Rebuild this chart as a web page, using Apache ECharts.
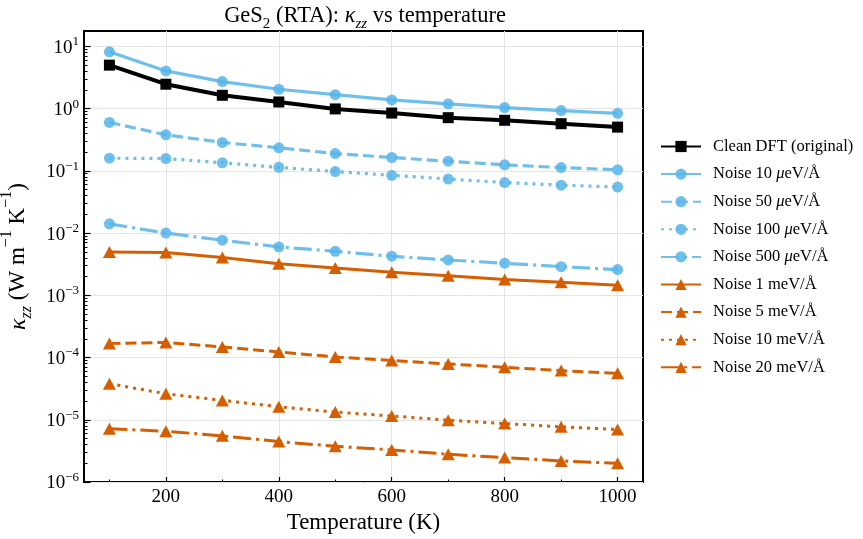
<!DOCTYPE html>
<html><head><meta charset="utf-8">
<script src="https://cdn.jsdelivr.net/npm/echarts@6/dist/echarts.min.js"></script>
<style>html,body{margin:0;padding:0;background:#fff}#c{width:863px;height:539px}</style>
</head><body><div id="c"></div><script>
const temps = [100,200,300,400,500,600,700,800,900,1000];
const clean  = [5.0,2.47,1.64,1.28,0.99,0.85,0.716,0.65,0.573,0.505];
const n10ue  = [8.18,4.04,2.72,2.05,1.68,1.38,1.19,1.04,0.93,0.84];
const n50ue  = [0.60,0.38,0.286,0.235,0.19,0.164,0.143,0.125,0.113,0.104];
const n100ue = [0.16,0.158,0.135,0.114,0.0975,0.085,0.074,0.065,0.059,0.055];
const n500ue = [0.0141,0.0100,0.0077,0.0060,0.0051,0.00425,0.0037,0.00328,0.00289,0.00259];
const n1me   = [0.00499,0.00486,0.00404,0.00323,0.00275,0.00235,0.00207,0.00179,0.00162,0.00145];
const n5me   = [1.68e-4,1.75e-4,1.48e-4,1.23e-4,1.02e-4,8.95e-5,7.9e-5,6.98e-5,6.17e-5,5.58e-5];
const n10me  = [3.8e-5,2.62e-5,2.05e-5,1.62e-5,1.33e-5,1.15e-5,9.87e-6,8.7e-6,7.7e-6,6.98e-6];
const n20me  = [7.16e-6,6.55e-6,5.52e-6,4.47e-6,3.75e-6,3.28e-6,2.79e-6,2.47e-6,2.18e-6,2.0e-6];

const names = ['Clean DFT (original)','Noise 10 μeV/Å','Noise 50 μeV/Å','Noise 100 μeV/Å','Noise 500 μeV/Å',
  'Noise 1 meV/Å','Noise 5 meV/Å','Noise 10 meV/Å','Noise 20 meV/Å'];
const values = [clean,n10ue,n50ue,n100ue,n500ue,n1me,n5me,n10me,n20me];

const xMajorTicks = [200,400,600,800,1000];
const xMinorTicks = [100,300,500,700,900];
const yMajorTicks = [1e-6,1e-5,1e-4,1e-3,1e-2,1e-1,1,10];
const yMinorTicks = [];
for (let n=-6;n<=0;n++) for (let k=2;k<=9;k++) yMinorTicks.push(+(k*Math.pow(10,n)).toPrecision(3));

const SERIF = '"Liberation Serif","Times New Roman",serif';
const BLACK='#000000', BLUE='#56B4E9', ORANGE='#D55E00';
const DASH=[11,5], DOT=[3,5], DASHDOT=[18,5,3,5];
const styles = [
  {c:BLACK, sym:'rect', size:11, lw:4, t:'solid', op:1},
  {c:BLUE, sym:'circle', size:11, lw:3.2, t:'solid', op:0.85},
  {c:BLUE, sym:'circle', size:11, lw:3.2, t:DASH, op:0.85},
  {c:BLUE, sym:'circle', size:11, lw:3.2, t:DOT, op:0.85},
  {c:BLUE, sym:'circle', size:11, lw:3.2, t:DASHDOT, op:0.85},
  {c:ORANGE, sym:'triangle', size:[13,12], lw:3, t:'solid', op:1},
  {c:ORANGE, sym:'triangle', size:[13,12], lw:3, t:DASH, op:1},
  {c:ORANGE, sym:'triangle', size:[13,12], lw:3, t:DOT, op:1},
  {c:ORANGE, sym:'triangle', size:[13,12], lw:3, t:DASHDOT, op:1}
];

const series = names.map((nm,i)=>({
  name:nm, type:'line', xAxisIndex:0, yAxisIndex:0,
  data: temps.map((t,j)=>[t, values[i][j]]),
  symbol: styles[i].sym, symbolSize: styles[i].size,
  lineStyle:{color:styles[i].c, width:styles[i].lw, type:styles[i].t, opacity:styles[i].op},
  itemStyle:{color:styles[i].c, opacity:styles[i].op},
  emphasis:{disabled:true}, z: 2+i
}));

function supLabel(v){
  const e = Math.round(Math.log10(v));
  return '{b|10}{s|' + String(e).replace('-', '−') + '}';
}

const chart = echarts.init(document.getElementById('c'), null, {renderer:'canvas'});
chart.setOption({
  animation:false,
  backgroundColor:'#fff',
  title:{
    text:'GeS{sub|2} (RTA): {it|κ}{sub2|zz} vs temperature',
    left:360, top:0, textAlign:'center',
    textStyle:{fontFamily:SERIF, fontSize:22.5, fontWeight:'normal', color:'#000',
      rich:{
        sub:{fontFamily:SERIF, fontSize:15, color:'#000', verticalAlign:'bottom', padding:[0,0,-4,0]},
        sub2:{fontFamily:SERIF, fontSize:15, fontStyle:'italic', color:'#000', verticalAlign:'bottom', padding:[0,0,-4,0]},
        it:{fontFamily:SERIF, fontSize:22.5, fontStyle:'italic', color:'#000'}
      }}
  },
  grid:{left:84, top:31, right:220, bottom:57, show:true, borderColor:'#000', borderWidth:2, backgroundColor:'transparent',
    containLabel:false, outerBoundsMode:'none'},
  legend:{
    orient:'vertical', left:660, top:138, padding:0,
    itemWidth:40, itemHeight:14, itemGap:10.6,
    data:names,
    formatter: n => n.replace('μ','{it|μ}'),
    textStyle:{fontFamily:SERIF, fontSize:16.5, color:'#000', lineHeight:17, padding:[0,0,0,7],
      rich:{it:{fontFamily:SERIF, fontSize:16.5, fontStyle:'italic', color:'#000', lineHeight:17}}}
  },
  xAxis:[{
    type:'value', min:55, max:1045, position:'bottom',
    name:'Temperature (K)', nameLocation:'middle', nameGap:29,
    nameTextStyle:{fontFamily:SERIF, fontSize:23, color:'#000'},
    axisLine:{show:false},
    axisTick:{show:true, inside:true, length:5, customValues:xMajorTicks, lineStyle:{color:'#000', width:1.2}},
    axisLabel:{customValues:xMajorTicks, formatter: v => String(v), fontFamily:SERIF, fontSize:19, color:'#000', margin:6},
    splitLine:{show:true, lineStyle:{color:'#e5e5e5', width:1}}
  },{
    type:'value', min:55, max:1045, position:'bottom',
    axisLine:{show:false},
    axisTick:{show:true, inside:true, length:2.5, customValues:xMinorTicks, lineStyle:{color:'#000', width:1}},
    axisLabel:{show:false}, splitLine:{show:false}
  }],
  yAxis:[{
    type:'log', logBase:10, min:1e-6, max:17.7, position:'left',
    name:'{it|κ}{sub|zz} (W m{sup|−1} K{sup|−1})', nameLocation:'middle', nameGap:50, nameRotate:90,
    nameTextStyle:{fontFamily:SERIF, fontSize:23, color:'#000',
      rich:{
        it:{fontFamily:SERIF, fontSize:24, fontStyle:'italic', color:'#000'},
        sub:{fontFamily:SERIF, fontSize:16, fontStyle:'italic', color:'#000', verticalAlign:'bottom', padding:[0,0,-5,0]},
        sup:{fontFamily:SERIF, fontSize:16, color:'#000', verticalAlign:'top', padding:[-7,0,0,0]}
      }},
    axisLine:{show:false},
    axisTick:{show:true, inside:true, length:6.5, customValues:yMajorTicks, lineStyle:{color:'#000', width:1.2}},
    axisLabel:{customValues:yMajorTicks, formatter:supLabel, margin:5,
      rich:{
        b:{fontFamily:SERIF, fontSize:19, color:'#000', verticalAlign:'bottom'},
        s:{fontFamily:SERIF, fontSize:13, color:'#000', verticalAlign:'top', padding:[0,0,9,0]}
      }},
    splitLine:{show:true, lineStyle:{color:'#e5e5e5', width:1}}
  },{
    type:'log', logBase:10, min:1e-6, max:17.7, position:'left',
    axisLine:{show:false},
    axisTick:{show:true, inside:true, length:3.5, customValues:yMinorTicks, lineStyle:{color:'#000', width:1}},
    axisLabel:{show:false}, splitLine:{show:false}
  }],
  series: series
});
</script></body></html>
